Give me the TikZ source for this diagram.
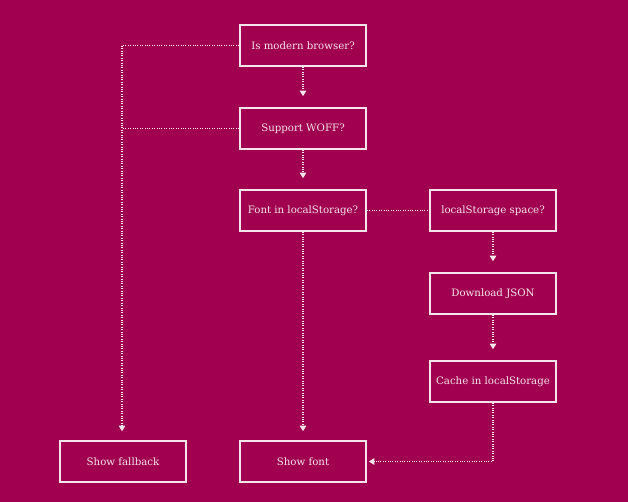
\documentclass[tikz,border=0pt]{standalone}
\usepackage{fontspec}
\setmainfont{DejaVu Serif}
\usetikzlibrary{arrows.meta}
\definecolor{bg}{HTML}{A0004F}
\definecolor{fg}{HTML}{F6E4EC}
\begin{document}
\begin{tikzpicture}[x=1pt,y=-1pt,
  box/.style={draw=fg,line width=1.6pt,minimum width=126pt,minimum height=41pt,inner sep=0pt,text=fg,font=\fontsize{10.2}{12}\selectfont},
  link/.style={draw=fg,line width=1.2pt,dash pattern=on 1pt off 1.4pt},
  arr/.style={link,-{Triangle[length=5.5pt,width=6.5pt]}}]
\fill[bg] (0,0) rectangle (628,502);
\useasboundingbox (0,0) rectangle (628,502);
\node[box] (modern) at (303,45.5) {Is modern browser?};
\node[box] (woff) at (303,128.5) {Support WOFF?};
\node[box] (fls) at (303,210.5) {Font in localStorage?};
\node[box] (space) at (493,210.5) {localStorage space?};
\node[box] (json) at (493,293.5) {Download JSON};
\node[box] (cache) at (493,381.5) {Cache in localStorage};
\node[box] (fallback) at (123,461.5) {Show fallback};
\node[box] (font) at (303,461.5) {Show font};
\coordinate (corner) at (122,45.5);
\draw[arr,shorten >=9pt] (modern.west) -- (corner) -- (corner |- fallback.north);
\draw[link] (woff.west) -- (corner |- woff.west);
\draw[arr,shorten >=11pt] (modern.south) -- (woff.north);
\draw[arr,shorten >=11pt] (woff.south) -- (fls.north);
\draw[link] (fls.east) -- (space.west);
\draw[arr,shorten >=9pt] (fls.south) -- (font.north);
\draw[arr,shorten >=11pt] (space.south) -- (json.north);
\draw[arr,shorten >=11pt] (json.south) -- (cache.north);
\draw[arr,shorten >=2pt] (cache.south) -- (cache.south |- font.east) -- (font.east);
\end{tikzpicture}
\end{document}
